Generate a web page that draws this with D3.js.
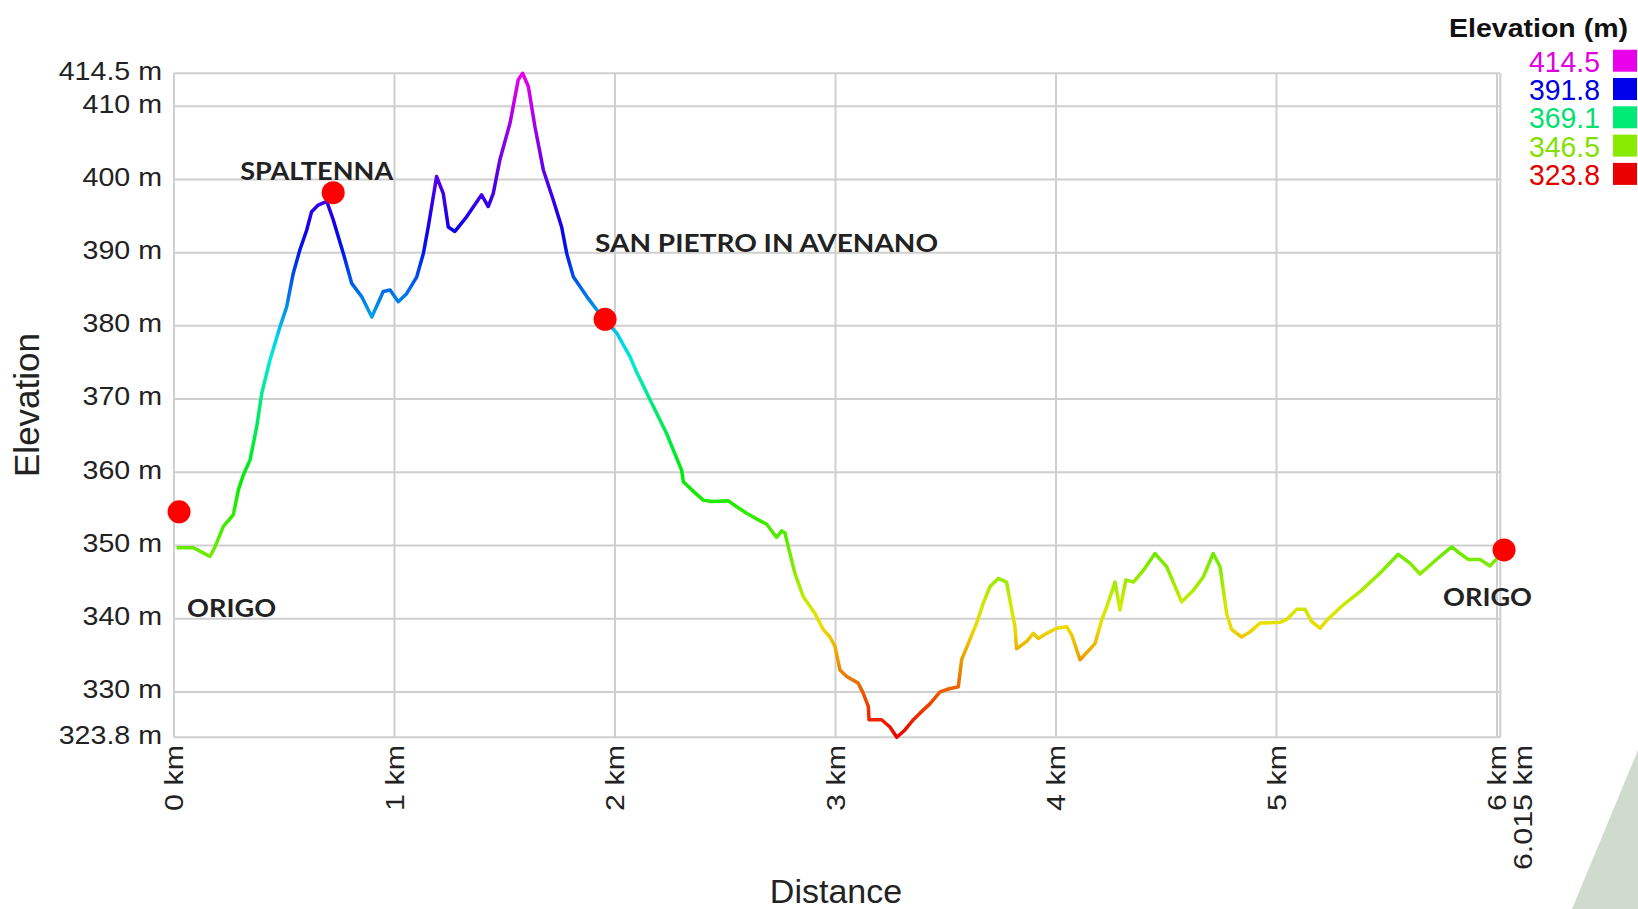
<!DOCTYPE html>
<html>
<head>
<meta charset="utf-8">
<title>Elevation profile</title>
<script src="https://cdn.jsdelivr.net/npm/d3@7"></script>
<style>
	body { margin: 0; background: #fff; }
	#chart { width: 1638px; height: 909px; }
</style>
</head>
<body>
<div id="chart"></div>
<script>
// profilo altimetrico (km, m)
var distanceKm = [
	0.012, 0.088, 0.126, 0.163, 0.186, 0.224, 0.269, 0.292, 0.314, 0.345,
	0.375, 0.398, 0.435, 0.481, 0.511, 0.541, 0.571, 0.602, 0.624, 0.654,
	0.693, 0.722, 0.768, 0.806, 0.851, 0.897, 0.949, 0.980, 1.017, 1.055,
	1.101, 1.131, 1.153, 1.191, 1.221, 1.244, 1.274, 1.327, 1.395, 1.425,
	1.448, 1.478, 1.524, 1.561, 1.581, 1.607, 1.637, 1.675, 1.720, 1.758,
	1.781, 1.811, 1.872, 1.947, 2.008, 2.068, 2.098, 2.159, 2.234, 2.302,
	2.310, 2.348, 2.400, 2.439, 2.514, 2.552, 2.597, 2.650, 2.688, 2.733,
	2.756, 2.771, 2.786, 2.816, 2.854, 2.907, 2.945, 2.975, 2.998, 3.020,
	3.051, 3.103, 3.126, 3.149, 3.152, 3.209, 3.247, 3.278, 3.315, 3.353,
	3.383, 3.429, 3.474, 3.512, 3.557, 3.572, 3.602, 3.640, 3.670, 3.701,
	3.738, 3.776, 3.791, 3.814, 3.821, 3.867, 3.897, 3.920, 3.958, 4.003,
	4.049, 4.071, 4.109, 4.177, 4.207, 4.230, 4.268, 4.290, 4.317, 4.351,
	4.396, 4.449, 4.502, 4.570, 4.623, 4.668, 4.713, 4.744, 4.774, 4.797,
	4.842, 4.880, 4.925, 5.016, 5.046, 5.092, 5.129, 5.160, 5.197, 5.235,
	5.303, 5.379, 5.469, 5.552, 5.605, 5.651, 5.696, 5.749, 5.795, 5.832,
	5.870, 5.923, 5.968, 5.999, 6.015
];
var elevationM = [
	349.7, 349.7, 349.1, 348.5, 349.8, 352.6, 354.2, 357.6, 359.6, 361.7,
	366.2, 370.8, 375.3, 379.9, 382.6, 387.2, 390.4, 393.1, 395.6, 396.5,
	397.0, 394.5, 389.9, 385.8, 384.0, 381.2, 384.7, 384.9, 383.3, 384.4,
	386.7, 389.9, 393.5, 400.4, 398.1, 393.5, 392.9, 394.9, 397.9, 396.3,
	398.1, 402.7, 407.7, 413.6, 414.5, 412.7, 407.2, 401.3, 397.2, 393.5,
	389.9, 386.7, 384.0, 381.0, 379.0, 375.8, 373.7, 369.9, 365.3, 360.3,
	358.7, 357.6, 356.2, 356.0, 356.1, 355.3, 354.4, 353.5, 352.9, 351.1,
	352.0, 351.7, 349.8, 346.2, 343.0, 340.7, 338.5, 337.5, 336.2, 333.0,
	332.1, 331.2, 329.8, 328.0, 326.2, 326.2, 325.2, 323.8, 324.8, 326.2,
	327.1, 328.4, 330.0, 330.4, 330.7, 334.4, 336.6, 339.4, 342.1, 344.4,
	345.5, 345.0, 342.5, 338.9, 335.9, 336.9, 338.0, 337.3, 338.0, 338.7,
	338.9, 337.8, 334.4, 336.6, 339.8, 341.6, 345.0, 341.2, 345.3, 345.0,
	346.6, 348.9, 347.1, 342.3, 343.9, 345.7, 348.9, 347.1, 340.7, 338.5,
	337.5, 338.2, 339.4, 339.5, 339.9, 341.3, 341.3, 339.6, 338.7, 340.0,
	341.9, 343.7, 346.2, 348.8, 347.6, 346.1, 347.3, 348.7, 349.8, 348.9,
	348.1, 348.1, 347.2, 348.2, 349.0
];

// punti notevoli
var waypointNames = ["ORIGO", "SPALTENNA", "SAN PIETRO IN AVENANO", "ORIGO"];
var waypointKm = [0.023, 0.722, 1.955, 6.032];
var waypointElev = [354.6, 398.2, 380.9, 349.4];

// assi e legenda
var xTicks = [0, 1, 2, 3, 4, 5, 6, 6.015];
var yTicks = [323.8, 330, 340, 350, 360, 370, 380, 390, 400, 410, 414.5];
var legendValues = [414.5, 391.8, 369.1, 346.5, 323.8];
var legendHues = [300, 240, 150, 85, 0];

function profile_chart(){
	var width = 1638;
	var height = 909;

	var svg = d3.select("#chart").append("svg")
		.attr("width", width)
		.attr("height", height);

	var x = d3.scaleLinear().domain([0, 6.015]).range([174, 1500.3]);
	var y = d3.scaleLinear().domain([323.8, 414.5]).range([737.3, 73.3]);

	// colore in base alla quota
	var hue = d3.scaleLinear()
		.domain(legendValues.slice().reverse())
		.range(legendHues.slice().reverse());
	function elevColor(e, l) {
		return d3.hsl(hue(e), 1, l).formatHex();
	}

	// decorazione in basso a destra
	svg.append("path")
		.attr("d", "M1638,750 L1572,909 L1638,909 Z")
		.attr("fill", "#cfdccd");

	// griglia
	var grid = svg.append("g").attr("stroke", "#cfcfcf").attr("stroke-width", 2);
	grid.selectAll(".hgrid")
		.data(yTicks)
		.enter().append("line")
		.attr("x1", x(0)).attr("x2", x(6.015))
		.attr("y1", function(d) { return y(d); })
		.attr("y2", function(d) { return y(d); });
	grid.selectAll(".vgrid")
		.data(xTicks)
		.enter().append("line")
		.attr("x1", function(d) { return x(d); })
		.attr("x2", function(d) { return x(d); })
		.attr("y1", y(414.5)).attr("y2", y(323.8));

	// etichette asse y (un po' allargate come nell'originale)
	svg.append("g").selectAll("text")
		.data(yTicks)
		.enter().append("text")
		.attr("transform", function(d) {
			return "translate(162," + (y(d) - 3) + ") scale(1.1,1)";
		})
		.attr("dy", "0.36em")
		.attr("text-anchor", "end")
		.style("font-family", "'Liberation Sans', Arial, sans-serif")
		.style("font-size", "26px")
		.style("fill", "#222")
		.text(function(d) { return d + " m"; });

	// etichette asse x (ruotate)
	svg.append("g").selectAll("text")
		.data(xTicks)
		.enter().append("text")
		.attr("transform", function(d) {
			var px = x(d) + (d == 6.015 ? 22 : 0);
			return "translate(" + px + ",745) rotate(-90) scale(1.17,1)";
		})
		.attr("dy", "0.36em")
		.attr("text-anchor", "end")
		.style("font-family", "'Liberation Sans', Arial, sans-serif")
		.style("font-size", "26px")
		.style("fill", "#222")
		.text(function(d) { return d + " km"; });

	// titoli assi
	svg.append("text")
		.attr("transform", "translate(39,405) rotate(-90)")
		.attr("text-anchor", "middle")
		.style("font-family", "'Liberation Sans', Arial, sans-serif")
		.style("font-size", "35px")
		.style("fill", "#222")
		.text("Elevation");
	svg.append("text")
		.attr("x", 836).attr("y", 903)
		.attr("text-anchor", "middle")
		.style("font-family", "'Liberation Sans', Arial, sans-serif")
		.style("font-size", "34px")
		.style("fill", "#222")
		.text("Distance");

	// gradiente verticale per la linea
	var grad = svg.append("defs").append("linearGradient")
		.attr("id", "elevGrad")
		.attr("gradientUnits", "userSpaceOnUse")
		.attr("x1", 0).attr("x2", 0)
		.attr("y1", y(323.8)).attr("y2", y(414.5));
	d3.range(0, 31).forEach(function(i) {
		var e = 323.8 + (414.5 - 323.8) * i / 30;
		grad.append("stop")
			.attr("offset", (i / 30 * 100) + "%")
			.attr("stop-color", elevColor(e, 0.46));
	});

	var points = distanceKm.map(function(d, i) { return [d, elevationM[i]]; });
	var line = d3.line()
		.x(function(d) { return x(d[0]); })
		.y(function(d) { return y(d[1]); });

	svg.append("path")
		.datum(points)
		.attr("d", line)
		.attr("fill", "none")
		.attr("stroke", "url(#elevGrad)")
		.attr("stroke-width", 3.5)
		.attr("stroke-linejoin", "round");

	// punti notevoli
	svg.append("g").selectAll("circle")
		.data(waypointKm)
		.enter().append("circle")
		.attr("cx", function(d) { return x(d); })
		.attr("cy", function(d, i) { return y(waypointElev[i]); })
		.attr("r", 11.5)
		.attr("fill", "#ff0000");

	// posizione delle scritte rispetto al punto
	var labelOffsets = [[8, 105], [-93, -13], [-10, -67], [-61, 56]];
	var labelWidths = [89, 153, 343, 89];
	svg.append("g").selectAll("text")
		.data(waypointNames)
		.enter().append("text")
		.attr("x", function(d, i) { return x(waypointKm[i]) + labelOffsets[i][0]; })
		.attr("y", function(d, i) { return y(waypointElev[i]) + labelOffsets[i][1]; })
		.attr("textLength", function(d, i) { return labelWidths[i]; })
		.attr("lengthAdjust", "spacingAndGlyphs")
		.style("font-family", "Lato, 'Open Sans', sans-serif")
		.style("font-weight", "bold")
		.style("font-size", "24.5px")
		.style("fill", "#222")
		.text(function(d) { return d; });

	// legenda
	var legend = svg.append("g");
	legend.append("text")
		.attr("x", 1628).attr("y", 37)
		.attr("text-anchor", "end")
		.attr("textLength", 179)
		.attr("lengthAdjust", "spacingAndGlyphs")
		.style("font-family", "'Liberation Sans', Arial, sans-serif")
		.style("font-weight", "bold")
		.style("font-size", "26px")
		.style("fill", "#111")
		.text("Elevation (m)");

	var rows = legend.selectAll(".row")
		.data(legendValues)
		.enter().append("g")
		.attr("transform", function(d, i) { return "translate(0," + (71.7 + i * 28.3) + ")"; });
	rows.append("rect")
		.attr("x", 1613).attr("y", -22)
		.attr("width", 24).attr("height", 22)
		.attr("fill", function(d) { return elevColor(d, 0.46); });
	rows.append("text")
		.attr("x", 1600).attr("y", 0)
		.attr("text-anchor", "end")
		.attr("textLength", 71)
		.attr("lengthAdjust", "spacingAndGlyphs")
		.style("font-family", "'Liberation Sans', Arial, sans-serif")
		.style("font-size", "29px")
		.style("fill", function(d) { return elevColor(d, 0.44); })
		.text(function(d) { return d.toFixed(1); });
}

profile_chart();
</script>
</body>
</html>
